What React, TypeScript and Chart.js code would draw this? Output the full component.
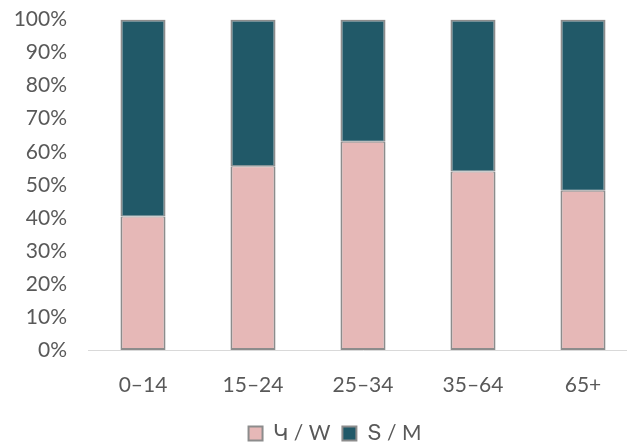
import React, { useEffect, useRef } from "react";
import { Chart, registerables } from "chart.js";

Chart.register(...registerables);

const categories = ["0–14", "15–24", "25–34", "35–64", "65+"];
const womenShare = [40.4, 55.6, 63.0, 54.0, 48.2];
const menShare = [59.6, 44.4, 37.0, 46.0, 51.8];
const seriesLabels = ["Կ / W", "Տ / M"];
const yTicks = [0, 10, 20, 30, 40, 50, 60, 70, 80, 90, 100];

const FONT = "Lato, 'DejaVu Sans', sans-serif";
const TEXT = "#595959";
const EDGE = "#8c8c8c";

export default function App() {
  const ref = useRef<HTMLCanvasElement | null>(null);
  useEffect(() => {
    if (!ref.current) return;
    const chart = new Chart(ref.current, {
      type: "bar",
      data: {
        labels: categories,
        datasets: [
          {
            label: seriesLabels[0],
            data: womenShare,
            backgroundColor: "#e6b8b7",
            borderColor: EDGE,
            borderWidth: { top: 1, left: 2, right: 2, bottom: 2 },
            borderSkipped: false,
            categoryPercentage: 1,
            barPercentage: 0.41,
          },
          {
            label: seriesLabels[1],
            data: menShare,
            backgroundColor: "#215968",
            borderColor: EDGE,
            borderWidth: { top: 2, left: 2, right: 2, bottom: 1 },
            borderSkipped: false,
            categoryPercentage: 1,
            barPercentage: 0.41,
          },
        ],
      },
      options: {
        responsive: false,
        animation: false,
        devicePixelRatio: 1,
        layout: { autoPadding: false, padding: { top: 6.4, right: 0, left: 0, bottom: -6 } },
        plugins: {
          tooltip: { enabled: false },
          legend: {
            position: "bottom",
            labels: {
              color: TEXT,
              font: { family: FONT, size: 21 },
              boxWidth: 14,
              boxHeight: 14,
              padding: 12,
              generateLabels: (c: any) => {
                const items = Chart.defaults.plugins.legend.labels.generateLabels(c);
                return items.map((it: any) => ({ ...it, lineWidth: 2, strokeStyle: EDGE }));
              },
            },
          },
        },
        scales: {
          x: {
            stacked: true,
            grid: { display: false, drawTicks: false },
            border: { display: true, color: "#d9d9d9", width: 1 },
            ticks: { color: TEXT, font: { family: FONT, size: 21 }, padding: 23 },
            afterFit: (s: any) => {
              s.height = 61;
            },
          },
          y: {
            stacked: true,
            min: 0,
            max: 100,
            afterBuildTicks: (s: any) => {
              s.ticks = yTicks.map((v) => ({ value: v }));
            },
            grid: { display: false, drawTicks: false },
            border: { display: false },
            ticks: {
              color: TEXT,
              font: { family: FONT, size: 21 },
              padding: 21,
              callback: (v: any) => v + "%",
            },
            afterFit: (s: any) => {
              s.width = 88;
            },
          },
          y2: {
            type: "linear",
            position: "right",
            display: true,
            grid: { display: false, drawTicks: false },
            border: { display: false },
            ticks: { display: false },
            afterFit: (s: any) => {
              s.width = 32;
            },
          },
        },
      },
    });
    return () => chart.destroy();
  }, []);
  return (
    <div style={{ position: "absolute", left: 0, top: 0, width: 627, height: 448, overflow: "hidden", background: "#fff" }}>
      <canvas ref={ref} width={670} height={462} style={{ position: "absolute", left: 0, top: -14 }} />
    </div>
  );
}
